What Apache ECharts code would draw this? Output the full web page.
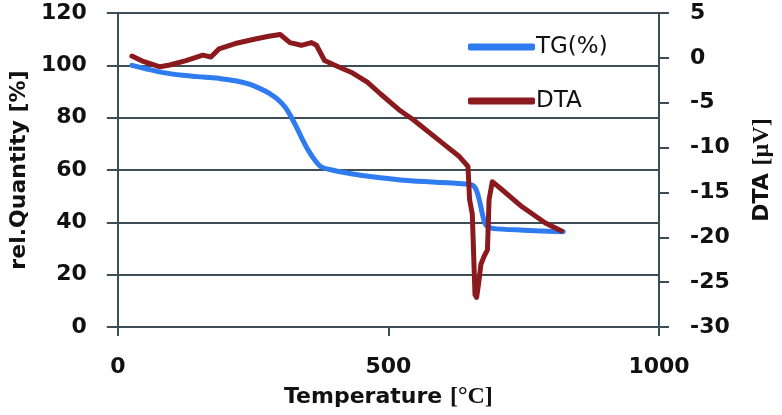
<!DOCTYPE html>
<html>
<head>
<meta charset="utf-8">
<script src="https://cdn.jsdelivr.net/npm/echarts@6/dist/echarts.min.js"></script>
<style>html,body{margin:0;padding:0;background:#fff;}#c{width:782px;height:415px;}</style>
</head>
<body>
<div id="c"></div>
<script>
var xTicks = [0, 500, 1000];
var leftTicks = [0, 20, 40, 60, 80, 100, 120];
var rightTicks = [-30, -25, -20, -15, -10, -5, 0, 5];

var tgTemp = [26, 50, 84, 120, 157, 190, 217, 240, 261, 280, 297, 310, 321, 330, 339, 352, 364, 376, 400, 431, 470, 522, 580, 630, 655, 662, 668, 675, 680, 692, 750, 823];
var tgVal  = [100, 98.8, 97.2, 96.2, 95.5, 94.9, 94.1, 93, 91.3, 89.3, 86.7, 83.8, 80, 76.5, 72.6, 67.5, 63.8, 61.2, 59.8, 58.6, 57.4, 56.2, 55.4, 54.8, 54.2, 52.5, 48.5, 42, 39, 37.7, 37, 36.4];

var dtaTemp = [26, 47, 78, 96, 126, 157, 172, 187, 217, 254, 279, 300, 318, 339, 358, 367, 382, 400, 431, 461, 485, 522, 546, 600, 631, 647, 650, 655, 660, 663, 667, 671, 677, 683, 686, 692, 710, 747, 790, 820];
var dtaVal  = [0.2, -0.4, -1.0, -0.8, -0.3, 0.3, 0.1, 1.0, 1.6, 2.1, 2.4, 2.6, 1.7, 1.4, 1.7, 1.4, -0.3, -0.8, -1.6, -2.7, -4.0, -5.9, -6.9, -9.5, -11.0, -12.1, -15.8, -17.4, -26.4, -26.7, -25.0, -23.0, -22.1, -21.4, -15.8, -13.8, -14.7, -16.6, -18.4, -19.3];

function pairs(xs, ys) { return xs.map(function (x, i) { return [x, ys[i]]; }); }

var axisCol = '#3c4d55';
var font = 'DejaVu Sans';
var chart = echarts.init(document.getElementById('c'), null, {renderer: 'canvas'});
chart.setOption({
  animation: false,
  backgroundColor: '#fff',
  grid: {left: 114, right: 120, top: 13, bottom: 88, containLabel: false},
  legend: {
    orient: 'vertical', left: 463, top: 28,
    itemWidth: 67, itemHeight: 7, itemGap: 26, icon: 'roundRect',
    textStyle: {fontFamily: font, fontSize: 23, color: '#111', lineHeight: 28, padding: [0, 0, 0, -4]},
    data: ['TG(%)', 'DTA']
  },
  xAxis: {
    type: 'value', min: 0, max: 1000, interval: 500,
    name: 'Temperature {s|[°C]}', nameLocation: 'middle', nameGap: 58,
    nameTextStyle: {fontFamily: font, fontWeight: 'bold', fontSize: 22, color: '#111',
      rich: {s: {fontFamily: 'Liberation Serif', fontWeight: 'bold', fontSize: 24, color: '#111'}}},
    axisLine: {show: true, lineStyle: {color: axisCol, width: 2}},
    axisTick: {show: true, inside: false, length: 9, lineStyle: {color: axisCol, width: 2}},
    axisLabel: {margin: 29, fontFamily: font, fontWeight: 'bold', fontSize: 22, color: '#111',
      formatter: function (v) { return String(v); }},
    splitLine: {show: false}
  },
  yAxis: [{
    type: 'value', min: 0, max: 120, interval: 20, position: 'left',
    name: 'rel.Quantity [%]', nameLocation: 'middle', nameGap: 84,
    nameTextStyle: {fontFamily: font, fontWeight: 'bold', fontSize: 22, color: '#111'},
    axisLine: {show: true, lineStyle: {color: axisCol, width: 2}},
    axisTick: {show: true, length: 11, lineStyle: {color: axisCol, width: 2}},
    axisLabel: {margin: 31, fontFamily: font, fontWeight: 'bold', fontSize: 22, color: '#111'},
    splitLine: {show: true, lineStyle: {color: axisCol, width: 2}}
  }, {
    type: 'value', min: -30, max: 5, interval: 5, position: 'right',
    name: 'DTA {s|[µV]}', nameLocation: 'middle', nameGap: 91,
    nameTextStyle: {fontFamily: font, fontWeight: 'bold', fontSize: 22, color: '#111',
      rich: {s: {fontFamily: 'Liberation Serif', fontWeight: 'bold', fontSize: 24, color: '#111'}}},
    axisLine: {show: true, lineStyle: {color: axisCol, width: 2}},
    axisTick: {show: true, length: 10, lineStyle: {color: axisCol, width: 2}},
    axisLabel: {margin: 31, fontFamily: font, fontWeight: 'bold', fontSize: 22, color: '#111'},
    splitLine: {show: false}
  }],
  series: [{
    name: 'TG(%)', type: 'line', yAxisIndex: 0, data: pairs(tgTemp, tgVal),
    showSymbol: false, smooth: 0.3, color: '#2f7bf0',
    lineStyle: {width: 5, color: '#2f7bf0', cap: 'round', join: 'round'}
  }, {
    name: 'DTA', type: 'line', yAxisIndex: 1, data: pairs(dtaTemp, dtaVal),
    showSymbol: false, smooth: false, color: '#8b1a1e',
    lineStyle: {width: 5, color: '#8b1a1e', cap: 'round', join: 'round'}
  }]
});
</script>
</body>
</html>
